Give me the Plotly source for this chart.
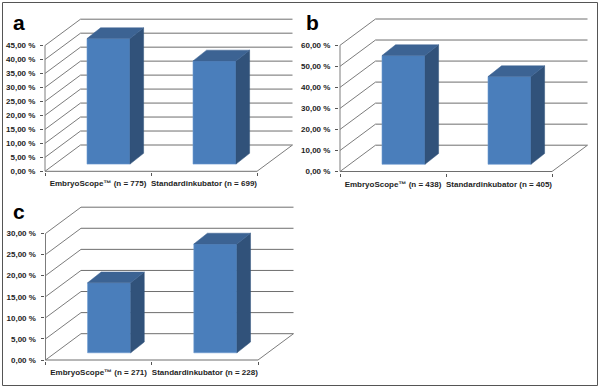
import plotly.graph_objects as go

categories_a = ["EmbryoScope™ (n = 775)", "Standardinkubator (n = 699)"]
categories_b = ["EmbryoScope™ (n = 438)", "Standardinkubator (n = 405)"]
categories_c = ["EmbryoScope™ (n = 271)", "Standardinkubator (n = 228)"]
values_a = [44.9, 36.9]
values_b = [51.7, 41.7]
values_c = [16.6, 25.8]
ticks_a = [0, 5, 10, 15, 20, 25, 30, 35, 40, 45]
ticks_b = [0, 10, 20, 30, 40, 50, 60]
ticks_c = [0, 5, 10, 15, 20, 25, 30]

W, H = 600, 389
GRID = "#7c7c7c"
FRONT, SIDE, TOP = "#4a7ebb", "#31527a", "#3c6393"
FONT = "Liberation Sans"

# pixel geometry of each panel: left, right of the front floor, zero line, top tick
panels = [
    dict(id="", lab="a", cats=categories_a, vals=values_a, ticks=ticks_a, l=45, r=257, y0=171.3, yt=45.5, lx=19, ly=22),
    dict(id="2", lab="b", cats=categories_b, vals=values_b, ticks=ticks_b, l=340, r=552, y0=171.5, yt=45.3, lx=313, ly=22),
    dict(id="3", lab="c", cats=categories_c, vals=values_c, ticks=ticks_c, l=45.5, r=258, y0=360, yt=233.5, lx=19, ly=211),
]
WALL_X, WALL_Y = 35.5, 26.3      # depth of the floor, px
BAR_OFF_X, BAR_OFF_Y = 10.5, 7.2  # bar front, distance from front floor edge, px
BAR_D_X, BAR_D_Y = 13.6, 10.8    # bar depth, px
BAR_W = 43 / 106
PAD = 1.0

fig = go.Figure()
shapes = []
layout = {}

for p in panels:
    xpx = (p["r"] - p["l"]) / 2            # px per category
    ypx = (p["y0"] - p["yt"]) / p["ticks"][-1]  # px per %
    ux, uy = (lambda v: v / xpx), (lambda v: v / ypx)
    xa, ya = "x" + p["id"], "y" + p["id"]

    # floor, walls and grid
    wx, wy = ux(WALL_X), uy(WALL_Y)
    def line(x0, y0, x1, y1, color=GRID, width=1):
        shapes.append(dict(type="line", xref=xa, yref=ya, x0=x0, y0=y0, x1=x1, y1=y1,
                           line=dict(color=color, width=width), layer="below"))
    for t in p["ticks"]:
        line(-0.5, t, -0.5 + wx, t + wy)
        line(-0.5 + wx, t + wy, 1.5 + wx, t + wy, color="#6e6e6e")
    line(-0.5, 0, -0.5, p["ticks"][-1])
    line(-0.5, 0, 1.5, 0, color="#6e6e6e")
    line(1.5, 0, 1.5 + wx, wy)

    ox, oy = ux(BAR_OFF_X), uy(BAR_OFF_Y)
    dx, dy = ux(BAR_D_X), uy(BAR_D_Y)
    xs = [i + ox for i in range(len(p["vals"]))]

    fig.add_trace(go.Bar(x=xs, y=p["vals"], base=[oy] * len(xs), width=BAR_W,
                         marker=dict(color=FRONT, line=dict(color="#6d9ad0", width=0.6)),
                         xaxis=xa, yaxis=ya, showlegend=False, hoverinfo="skip"))
    for x, v in zip(xs, p["vals"]):
        a, b = x - BAR_W / 2, x + BAR_W / 2
        top = v + oy
        fig.add_trace(go.Scatter(x=[b, b + dx, b + dx, b, b], y=[oy, oy + dy, top + dy, top, oy],
                                 fill="toself", fillcolor=SIDE, mode="lines", line=dict(color=SIDE, width=0.5),
                                 xaxis=xa, yaxis=ya, showlegend=False, hoverinfo="skip"))
        fig.add_trace(go.Scatter(x=[a, a + dx, b + dx, b, a], y=[top, top + dy, top + dy, top, top],
                                 fill="toself", fillcolor=TOP, mode="lines", line=dict(color=TOP, width=0.5),
                                 xaxis=xa, yaxis=ya, showlegend=False, hoverinfo="skip"))

    # axes: domain is the pixel box, padded so the floor lines are not clipped
    box_l, box_r = p["l"] - PAD, p["r"] + WALL_X + 2
    box_b, box_t = p["y0"] + PAD, p["y0"] - (p["y0"] - p["yt"]) - WALL_Y - 4
    xkey, ykey = "xaxis" + p["id"], "yaxis" + p["id"]
    layout[xkey] = dict(
        domain=[box_l / W, box_r / W], anchor=ya, automargin=False,
        range=[-0.5 - ux(PAD), -0.5 + (box_r - p["l"]) / xpx],
        tickmode="array", tickvals=[0, 1], ticktext=p["cats"], ticks="", showgrid=False,
        zeroline=False, showline=False, tickangle=0, ticklabelstandoff=5,
        minor=dict(tickmode="array", tickvals=[-0.5, 0.5, 1.5], ticks="outside", ticklen=3,
                   tickcolor="#555555", tickwidth=1, showgrid=False),
        tickfont=dict(family=FONT, size=8, color="#1e1e1e", weight="bold"), fixedrange=True)
    layout[ykey] = dict(
        domain=[1 - box_b / H, 1 - box_t / H], anchor=xa, automargin=False,
        range=[-uy(PAD), (p["y0"] - box_t) / ypx],
        tickmode="array", tickvals=p["ticks"], ticktext=[f"{t:.2f} %".replace(".", ",") for t in p["ticks"]],
        ticks="outside", ticklen=3, tickcolor="#555555", tickwidth=1, showgrid=False,
        zeroline=False, showline=False, ticklabelstandoff=3,
        tickfont=dict(family=FONT, size=8, color="#1e1e1e", weight="bold"), fixedrange=True)

shapes.append(dict(type="rect", xref="paper", yref="paper", x0=2.5 / W, x1=597.5 / W,
                   y0=1 - 385.5 / H, y1=1 - 2.5 / H, line=dict(color="#555555", width=1), layer="below"))

annotations = [dict(text=f"<b>{p['lab']}</b>", x=p["lx"] / W, y=1 - p["ly"] / H, xref="paper", yref="paper",
                    xanchor="center", yanchor="middle", showarrow=False,
                    font=dict(family=FONT, size=21, color="#000000")) for p in panels]

fig.update_layout(width=W, height=H, margin=dict(l=0, r=0, t=0, b=0), autosize=False,
                  paper_bgcolor="white", plot_bgcolor="rgba(0,0,0,0)", barmode="overlay",
                  shapes=shapes, annotations=annotations, **layout)

fig.write_html("out.html", config={"displayModeBar": False},
               post_script="document.body.style.margin='0';document.documentElement.style.overflow='hidden';")
